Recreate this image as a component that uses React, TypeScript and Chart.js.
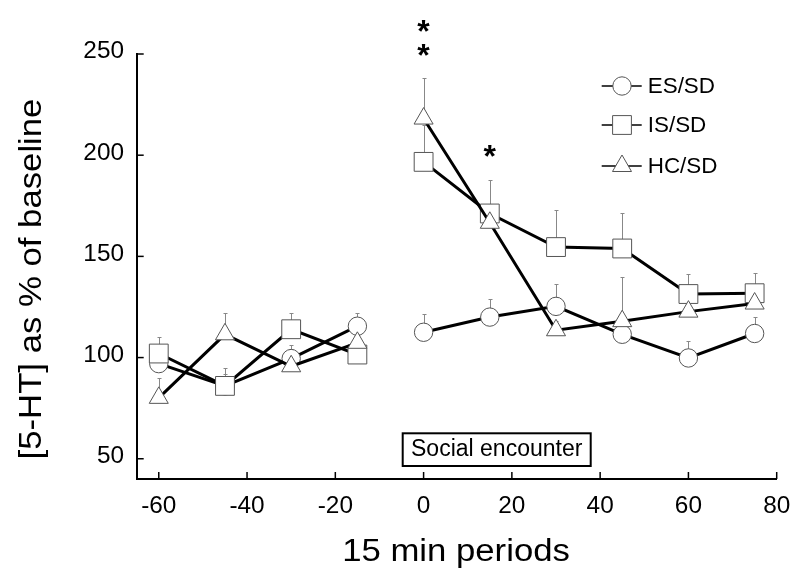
import React, { useEffect, useRef } from 'react';
import { Chart, registerables } from 'chart.js';
Chart.register(...registerables);

const periods = [-60, -45, -30, -15, 0, 15, 30, 45, 60, 75];
const esSD = [97, 86, 99.5, 115.5, 112.5, 120, 125.3, 111.5, 99.8, 111.9];
const esSDErr = [104, 92, 106, 122, 121.7, 129, 136.5, 118, 108, 120];
const isSD = [102, 86, 114, 101.5, 196.7, 171.2, 154.6, 153.9, 131.4, 131.8];
const isSDErr = [110, 95, 122, 106, 215, 187.5, 173, 171.5, 141.3, 141.8];
const hcSD = [80.1, 111.5, 95.7, 107.3, 218.1, 166.6, 113.5, 118, 122.7, 126.7];
const hcSDErr = [90, 122, 104, 113, 238, 176, 118, 139.8, 128, 131];
const seriesNames = ['ES/SD', 'IS/SD', 'HC/SD'];
const xTicks = [-60, -40, -20, 0, 20, 40, 60, 80];
const yTicks = [50, 100, 150, 200, 250];
const asteriskX = [0, 0, 15];
const asteriskY = [265, 253, 203];
const xTitle = '15 min periods';
const yTitle = '[5-HT] as % of baseline';
const boxLabel = 'Social encounter';

const FONT = '"Liberation Sans", Arial, Helvetica, sans-serif';

function drawText(ctx: CanvasRenderingContext2D, s: string, x: number, y: number, size: number, align: CanvasTextAlign, baseline: CanvasTextBaseline, sx = 1, rot = 0, bold = false) {
  ctx.save();
  ctx.translate(x, y);
  if (rot) ctx.rotate(rot);
  ctx.scale(sx, 1);
  ctx.font = `${bold ? 'bold ' : ''}${size}px ${FONT}`;
  ctx.fillStyle = '#000';
  ctx.textAlign = align;
  ctx.textBaseline = baseline;
  ctx.fillText(s, 0, 0);
  ctx.restore();
}

function drawMarker(ctx: CanvasRenderingContext2D, kind: string, x: number, y: number) {
  ctx.save();
  ctx.fillStyle = '#fff';
  ctx.strokeStyle = '#555';
  ctx.lineWidth = 1;
  ctx.beginPath();
  if (kind === 'circle') {
    ctx.arc(x, y, 9.2, 0, Math.PI * 2);
  } else if (kind === 'rect') {
    ctx.rect(x - 9.4, y - 9.4, 18.8, 18.8);
  } else {
    const r = 11;
    for (let k = 0; k < 3; k++) {
      const a = (k * 2 * Math.PI) / 3;
      const px = x + Math.sin(a) * r;
      const py = y - Math.cos(a) * r;
      if (k === 0) ctx.moveTo(px, py); else ctx.lineTo(px, py);
    }
    ctx.closePath();
  }
  ctx.fill();
  ctx.stroke();
  ctx.restore();
}

const errorPlugin = {
  id: 'errbars',
  beforeDatasetsDraw(chart: any) {
    const ctx = chart.ctx as CanvasRenderingContext2D;
    const xs = chart.scales.x;
    const ys = chart.scales.y;
    const sets = [[esSD, esSDErr], [isSD, isSDErr], [hcSD, hcSDErr]];
    ctx.save();
    ctx.strokeStyle = '#888';
    ctx.lineWidth = 1;
    sets.forEach(([vals, errs]) => {
      periods.forEach((p, j) => {
        const px = Math.round(xs.getPixelForValue(p)) + 0.5;
        const py = ys.getPixelForValue(vals[j]);
        const pe = Math.round(ys.getPixelForValue(errs[j])) + 0.5;
        ctx.beginPath();
        ctx.moveTo(px, py);
        ctx.lineTo(px, pe);
        ctx.moveTo(px - 2, pe);
        ctx.lineTo(px + 2, pe);
        ctx.stroke();
      });
    });
    ctx.restore();
  },
};

const decorPlugin = {
  id: 'decor',
  afterDraw(chart: any) {
    const ctx = chart.ctx as CanvasRenderingContext2D;
    const xs = chart.scales.x;
    const ys = chart.scales.y;
    const area = chart.chartArea;
    ctx.save();
    ctx.strokeStyle = '#000';
    ctx.lineWidth = 1.5;
    yTicks.forEach((v) => {
      const py = ys.getPixelForValue(v);
      ctx.beginPath();
      ctx.moveTo(area.left, py);
      ctx.lineTo(area.left + 7, py);
      ctx.stroke();
      drawText(ctx, String(v), 124, py - 2, 23, 'right', 'middle', 1.06);
    });
    xTicks.forEach((v) => {
      const px = xs.getPixelForValue(v);
      ctx.beginPath();
      ctx.moveTo(px, area.bottom);
      ctx.lineTo(px, area.bottom - 7);
      ctx.stroke();
      drawText(ctx, String(v), px, 507, 23, 'center', 'middle', 1.06);
    });
    drawText(ctx, xTitle, 456, 561, 31, 'center', 'alphabetic', 1.12);
    drawText(ctx, yTitle, 41, 279, 31, 'center', 'alphabetic', 1.12, -Math.PI / 2);
    ctx.lineWidth = 2;
    ctx.strokeRect(402.7, 433.3, 188, 32.7);
    drawText(ctx, boxLabel, 496.7, 450, 23, 'center', 'middle', 1.0);
    asteriskX.forEach((ax, i) => {
      const px = xs.getPixelForValue(ax);
      const py = ys.getPixelForValue(asteriskY[i]);
      drawText(ctx, '*', px, py + 18, 32, 'center', 'alphabetic', 1, 0, true);
    });
    const kinds = ['circle', 'rect', 'triangle'];
    const rowsY = [86, 125, 166];
    seriesNames.forEach((name, i) => {
      const y = rowsY[i];
      ctx.strokeStyle = '#000';
      ctx.lineWidth = 1.5;
      ctx.beginPath();
      ctx.moveTo(601.7, y);
      ctx.lineTo(641.7, y);
      ctx.stroke();
      drawMarker(ctx, kinds[i], 622, y);
      drawText(ctx, name, 647.7, y + 1, 22, 'left', 'middle', 1.02);
    });
    ctx.restore();
  },
};

export default function App() {
  const ref = useRef<HTMLCanvasElement | null>(null);
  useEffect(() => {
    if (!ref.current) return;
    const mk = (vals: number[]) => periods.map((p, i) => ({ x: p, y: vals[i] }));
    const gapSegment = {
      borderColor: (c: any) => (c.p0.parsed.x < 0 && c.p1.parsed.x >= 0 ? 'rgba(0,0,0,0)' : '#000'),
    };
    const common = {
      borderColor: '#000',
      borderWidth: 3,
      pointBackgroundColor: '#fff',
      pointBorderColor: '#555',
      pointBorderWidth: 1,
      tension: 0,
      clip: false as any,
      segment: gapSegment,
    };
    const chart = new Chart(ref.current, {
      type: 'line',
      data: {
        datasets: [
          { ...common, label: seriesNames[0], data: mk(esSD), pointStyle: 'circle', pointRadius: 9.2, order: 3 },
          { ...common, label: seriesNames[1], data: mk(isSD), pointStyle: 'rect', pointRadius: 13.3, order: 2 },
          { ...common, label: seriesNames[2], data: mk(hcSD), pointStyle: 'triangle', pointRadius: 11, order: 1 },
        ],
      },
      options: {
        responsive: false,
        animation: false,
        devicePixelRatio: 1,
        layout: { padding: { top: 54, right: 23.3, left: 0, bottom: 0 } },
        plugins: { legend: { display: false }, tooltip: { enabled: false } },
        elements: { point: { hoverRadius: 9 } },
        scales: {
          x: {
            type: 'linear',
            min: -65,
            max: 80,
            ticks: { display: false },
            grid: { display: false },
            border: { display: true, color: '#000', width: 2 },
            afterFit: (s: any) => { s.height = 95; },
          },
          y: {
            type: 'linear',
            min: 40,
            max: 250,
            ticks: { display: false },
            grid: { display: false },
            border: { display: true, color: '#000', width: 2 },
            afterFit: (s: any) => { s.width = 136.7; },
          },
        },
      },
      plugins: [errorPlugin, decorPlugin],
    });
    return () => chart.destroy();
  }, []);
  return (
    <div style={{ position: 'absolute', left: 0, top: 0, width: 800, height: 574, background: '#fff' }}>
      <canvas ref={ref} width={800} height={574} style={{ width: 800, height: 574, display: 'block' }} />
    </div>
  );
}
